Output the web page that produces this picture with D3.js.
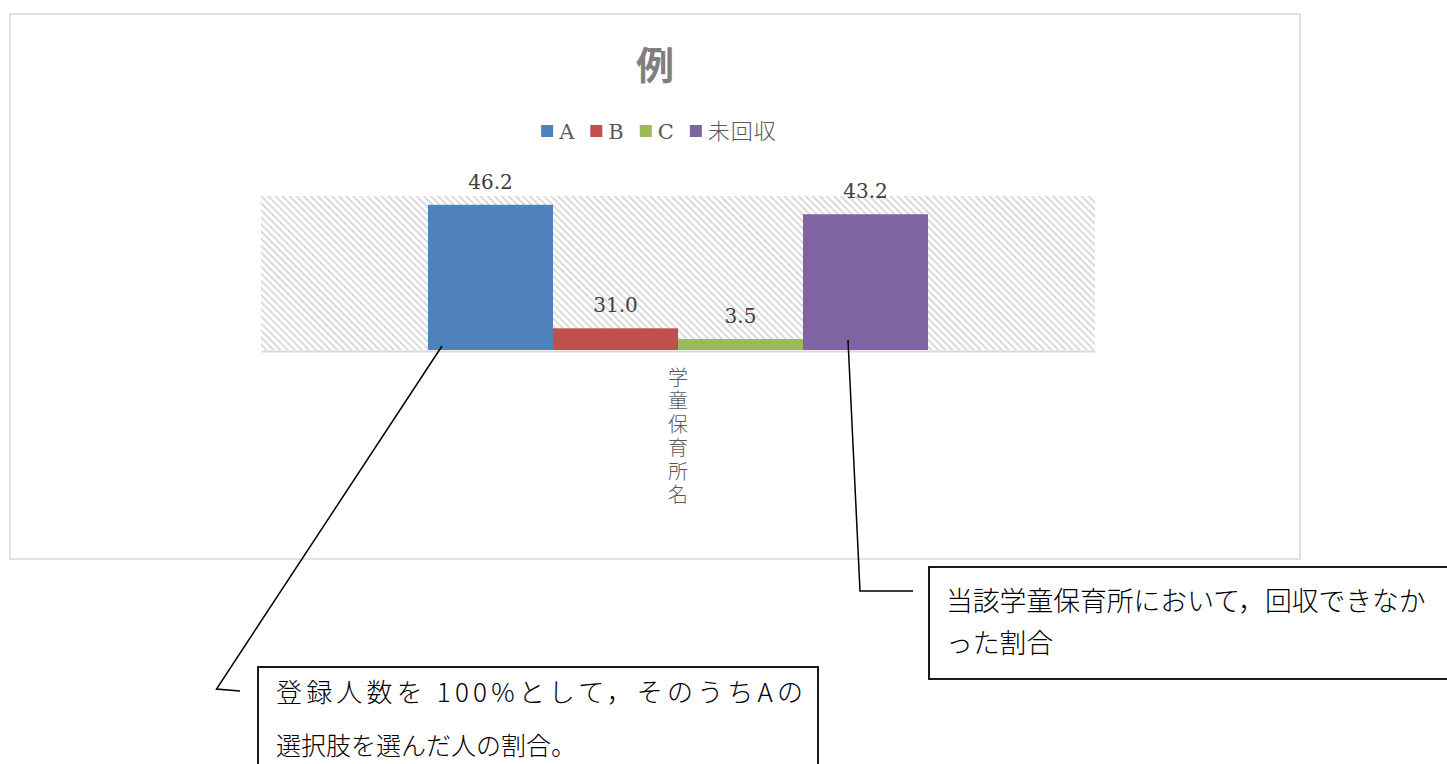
<!DOCTYPE html>
<html>
<head>
<meta charset="utf-8">
<script src="https://cdn.jsdelivr.net/npm/d3@7"></script>
<style>
	body { margin: 0; background: #fff; }
	svg { display: block; }
	.num { font-family: 'DejaVu Serif', 'Liberation Serif', serif; }
	.jp { font-family: 'Noto Sans CJK JP', sans-serif; }
</style>
</head>
<body>
<div id="chart"></div>
<script>
// DATA
const title = '例';
const categories = ['学童保育所名'];
const seriesNames = ['A', 'B', 'C', '未回収'];
const barValues = [46.2, 6.9, 3.5, 43.2];     // bar heights as drawn
const labelValues = [46.2, 31.0, 3.5, 43.2];  // data labels as printed
const colours = ['#4f81bd', '#c0504d', '#9bbb59', '#8064a2'];
const yMax = 49;
const noteA = ['登録人数を 100%として，そのうちAの', '選択肢を選んだ人の割合。'];
const noteB = ['当該学童保育所において，回収できなか', 'った割合'];

// THE GOOD STUFF
const width = 1447, height = 764;
const plot = { left: 261, right: 1095, top: 196, bottom: 350 };

const svg = d3.select('#chart')
	.append('svg')
	.attr('width', width)
	.attr('height', height);

// hatch pattern for plot area
const defs = svg.append('defs');
defs.append('pattern')
	.attr('id', 'hatch')
	.attr('patternUnits', 'userSpaceOnUse')
	.attr('width', 5)
	.attr('height', 5)
	.attr('patternTransform', 'rotate(-45)')
	.append('line')
	.attr('x1', 1).attr('y1', 0)
	.attr('x2', 1).attr('y2', 5)
	.attr('stroke', '#dadada')
	.attr('stroke-width', 2);

// chart frame
svg.append('rect')
	.attr('x', 10).attr('y', 14)
	.attr('width', 1290).attr('height', 545)
	.attr('fill', '#fff')
	.attr('stroke', '#d9d9d9')
	.attr('stroke-width', 1.5);

// title
svg.append('text')
	.attr('class', 'jp')
	.attr('x', 655).attr('y', 79)
	.attr('text-anchor', 'middle')
	.attr('font-size', 38)
	.attr('font-weight', 'bold')
	.attr('fill', '#7f7f7f')
	.text(title);

// scales
const x0 = d3.scaleBand()
	.domain(categories)
	.range([plot.left, plot.right])
	.paddingOuter(0.334)
	.paddingInner(0);

const x1 = d3.scaleBand()
	.domain(seriesNames)
	.range([0, x0.bandwidth()]);

const y = d3.scaleLinear()
	.domain([0, yMax])
	.range([plot.bottom, plot.top]);

// plot area
svg.append('rect')
	.attr('x', plot.left).attr('y', plot.top)
	.attr('width', plot.right - plot.left)
	.attr('height', plot.bottom - plot.top)
	.attr('fill', 'url(#hatch)');

// x axis line
svg.append('g')
	.attr('transform', `translate(0, ${y(0) + 1})`)
	.call(d3.axisBottom(x0).tickSize(0).tickFormat(''))
	.call(g => g.select('.domain').attr('stroke', '#d9d9d9').attr('stroke-width', 2));

// bars
const rows = seriesNames.map((name, i) => ({ name, value: barValues[i], label: labelValues[i], colour: colours[i] }));
const group = svg.append('g')
	.attr('transform', `translate(${x0(categories[0])}, 0)`);

group.selectAll('rect')
	.data(rows)
	.join('rect')
	.attr('x', d => x1(d.name))
	.attr('y', d => y(d.value))
	.attr('width', x1.bandwidth())
	.attr('height', d => y(0) - y(d.value))
	.attr('fill', d => d.colour);

group.selectAll('text')
	.data(rows)
	.join('text')
	.attr('class', 'num')
	.attr('x', d => x1(d.name) + x1.bandwidth() / 2)
	.attr('y', d => y(d.value) - 16)
	.attr('text-anchor', 'middle')
	.attr('font-size', 20)
	.attr('fill', '#404040')
	.text(d => d.label.toFixed(1));

// category label, vertical
const catX = x0(categories[0]) + x0.bandwidth() / 2;
svg.append('text')
	.attr('class', 'jp')
	.attr('x', catX)
	.attr('y', 367)
	.style('writing-mode', 'vertical-rl')
	.attr('letter-spacing', 3.5)
	.attr('font-size', 20)
	.attr('font-weight', 300)
	.attr('fill', '#595959')
	.text(categories[0]);

// legend
const legend = svg.append('g');
let lx = 0;
rows.forEach(d => {
	const latin = /[A-Z]/.test(d.name);
	const item = legend.append('g').attr('transform', `translate(${lx}, 0)`);
	item.append('rect')
		.attr('x', 0).attr('y', 125)
		.attr('width', 12).attr('height', 12)
		.attr('fill', d.colour);
	const t = item.append('text')
		.attr('class', latin ? 'num' : 'jp')
		.attr('x', 18).attr('y', 139)
		.attr('font-size', latin ? 21 : 22)
		.attr('font-weight', 300)
		.attr('letter-spacing', latin ? 0 : 1)
		.attr('fill', '#595959')
		.text(d.name);
	lx += 18 + t.node().getComputedTextLength() + 16;
});
lx -= 16;
legend.attr('transform', `translate(${659 - lx / 2}, 0)`);

// callouts
const leader = d3.line();
svg.append('path')
	.attr('d', leader([[442, 346], [216.5, 689], [240, 691]]))
	.attr('fill', 'none').attr('stroke', '#000').attr('stroke-width', 1.5);
svg.append('path')
	.attr('d', leader([[848, 340], [860, 591], [913, 591]]))
	.attr('fill', 'none').attr('stroke', '#000').attr('stroke-width', 1.5);

svg.append('rect')
	.attr('x', 258).attr('y', 667)
	.attr('width', 560).attr('height', 130)
	.attr('fill', '#fff').attr('stroke', '#000').attr('stroke-width', 1.8);
svg.append('rect')
	.attr('x', 929).attr('y', 567)
	.attr('width', 540).attr('height', 112)
	.attr('fill', '#fff').attr('stroke', '#000').attr('stroke-width', 1.8);

svg.append('g')
	.selectAll('text')
	.data(noteA)
	.join('text')
	.attr('class', 'jp')
	.attr('x', 276)
	.attr('y', (d, i) => 702 + i * 53)
	.attr('font-size', (d, i) => i === 0 ? 26 : 25)
	.attr('font-weight', 300)
	.attr('fill', '#000')
	.attr('textLength', (d, i) => i === 0 ? 527 : null)
	.attr('lengthAdjust', 'spacing')
	.text(d => d);

svg.append('g')
	.selectAll('text')
	.data(noteB)
	.join('text')
	.attr('class', 'jp')
	.attr('x', 946)
	.attr('y', (d, i) => 611 + i * 42)
	.attr('font-size', 26.8)
	.attr('font-weight', 300)
	.attr('fill', '#000')
	.text(d => d);
</script>
</body>
</html>
